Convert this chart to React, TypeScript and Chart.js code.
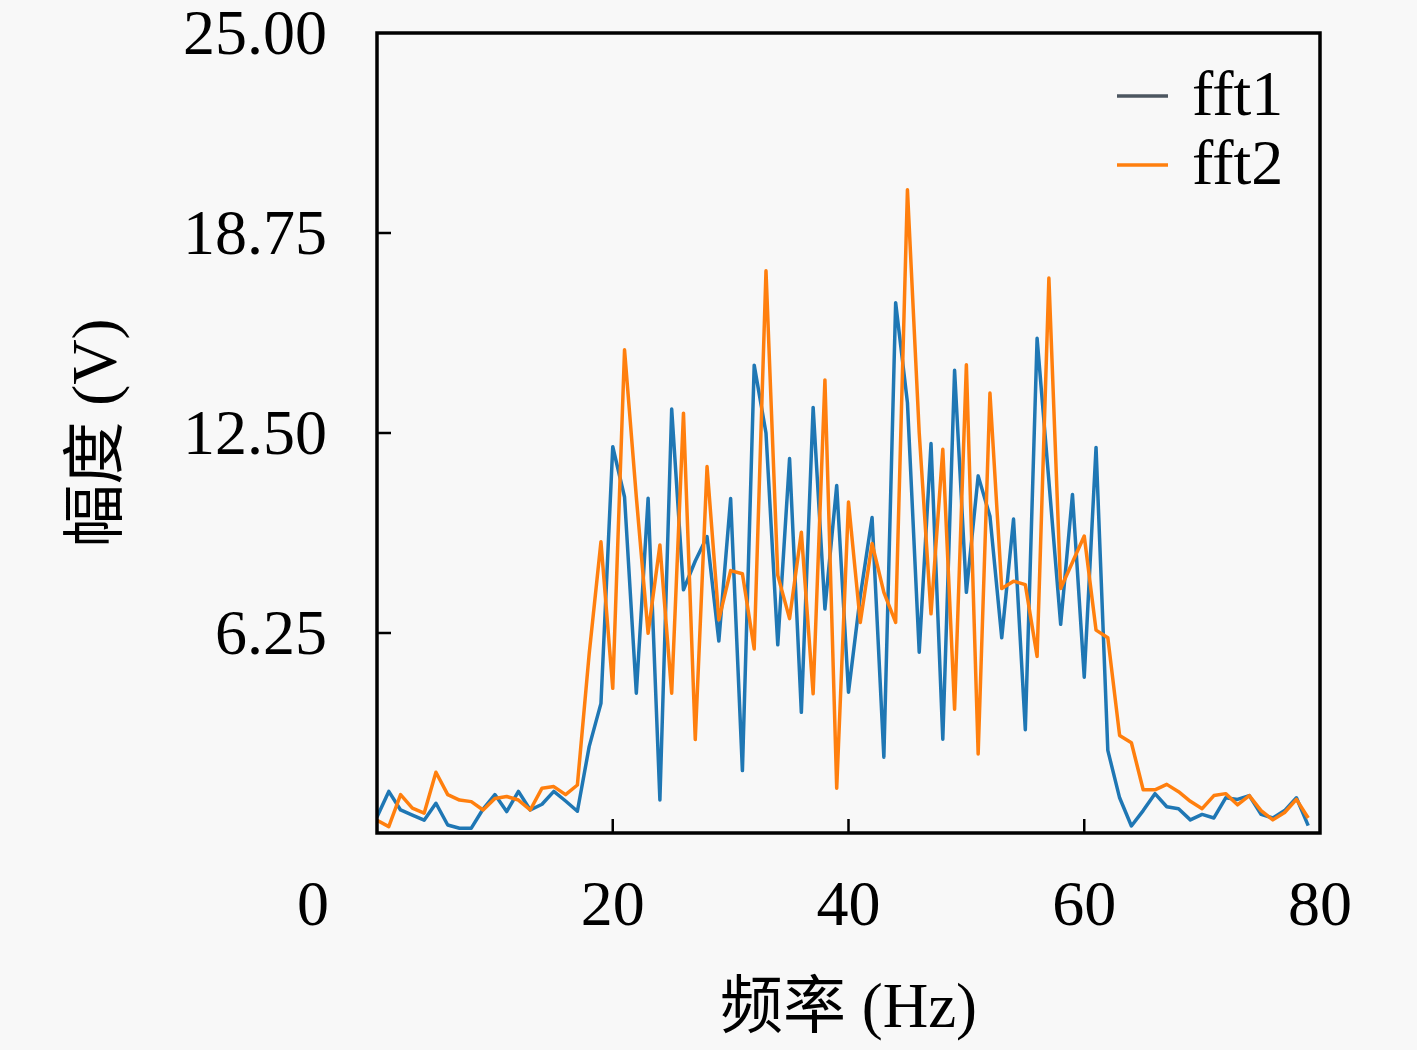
import React, { useEffect, useRef } from 'react';
import { Chart, registerables } from 'chart.js';

Chart.register(...registerables);

const freqs = [
  0, 1, 2, 3, 4, 5, 6, 7, 8, 9, 10, 11, 12, 13, 14, 15, 16, 17, 18, 19,
  20, 21, 22, 23, 24, 25, 26, 27, 28, 29, 30, 31, 32, 33, 34, 35, 36, 37, 38, 39,
  40, 41, 42, 43, 44, 45, 46, 47, 48, 49, 50, 51, 52, 53, 54, 55, 56, 57, 58, 59,
  60, 61, 62, 63, 64, 65, 66, 67, 68, 69, 70, 71, 72, 73, 74, 75, 76, 77, 78, 79,
];

const fft1 = [
  0.5, 1.3, 0.72, 0.56, 0.4, 0.93, 0.25, 0.15, 0.15, 0.75,
  1.2, 0.67, 1.3, 0.72, 0.9, 1.3, 1.0, 0.68, 2.7, 4.05,
  12.07, 10.5, 4.37, 10.46, 1.03, 13.25, 7.6, 8.5, 9.26, 6.0,
  10.45, 1.95, 14.62, 12.5, 5.88, 11.7, 3.77, 13.3, 7.0, 10.86,
  4.4, 7.4, 9.86, 2.37, 16.57, 13.45, 5.65, 12.17, 2.93, 14.46,
  7.52, 11.16, 9.9, 6.1, 9.81, 3.23, 15.46, 11.0, 6.52, 10.58,
  4.87, 12.05, 2.58, 1.1, 0.22, 0.7, 1.23, 0.82, 0.76, 0.41,
  0.58, 0.47, 1.1, 1.05, 1.17, 0.58, 0.47, 0.7, 1.1, 0.23,
];

const fft2 = [
  0.4, 0.2, 1.2, 0.78, 0.62, 1.9, 1.2, 1.03, 0.98, 0.72,
  1.08, 1.14, 1.03, 0.72, 1.4, 1.45, 1.2, 1.5, 5.6, 9.1,
  4.52, 15.1, 10.5, 6.24, 9.0, 4.37, 13.12, 2.92, 11.45, 6.66,
  8.2, 8.1, 5.75, 17.57, 8.05, 6.7, 9.4, 4.35, 14.16, 1.4,
  10.34, 6.58, 9.05, 7.52, 6.58, 20.1, 12.5, 6.85, 11.99, 3.87,
  14.63, 2.47, 13.75, 7.64, 7.87, 7.76, 5.52, 17.34, 7.64, 8.46,
  9.28, 6.34, 6.1, 3.05, 2.82, 1.35, 1.35, 1.52, 1.29, 0.99,
  0.76, 1.17, 1.23, 0.88, 1.17, 0.7, 0.41, 0.64, 1.05, 0.47,
];

const seriesNames = ['fft1', 'fft2'];
const lineColors = ['#1f77b4', '#ff7f0e'];
const legendColors = ['#4c5660', '#ff7f0e'];

const yTicks = [6.25, 12.5, 18.75, 25];
const xTicks = [20, 40, 60, 80];
const xTitle = '频率 (Hz)';
const yTitle = '幅度 (V)';

const SERIF = '"Liberation Serif", "DejaVu Serif", serif';
const TITLE_FONT = '"Liberation Serif", "Noto Sans CJK SC", serif';
const BG = '#f8f8f8';

const framePlugin = {
  id: 'frameAndTicks',
  afterDatasetsDraw(chart: any) {
    const { ctx, chartArea, scales } = chart;
    const { left, right, top, bottom } = chartArea;
    ctx.save();
    ctx.strokeStyle = '#000';
    ctx.lineWidth = 2.5;
    ctx.lineCap = 'butt';
    // inward ticks
    const tl = 14;
    for (const v of yTicks) {
      if (v >= scales.y.max) continue;
      const p = scales.y.getPixelForValue(v);
      ctx.beginPath();
      ctx.moveTo(left, p);
      ctx.lineTo(left + tl, p);
      ctx.stroke();
    }
    for (const v of xTicks) {
      if (v >= scales.x.max) continue;
      const p = scales.x.getPixelForValue(v);
      ctx.beginPath();
      ctx.moveTo(p, bottom);
      ctx.lineTo(p, bottom - tl);
      ctx.stroke();
    }
    // frame
    ctx.lineWidth = 3.5;
    ctx.strokeRect(left, top, right - left, bottom - top);

    // legend
    ctx.font = `64px ${SERIF}`;
    ctx.textBaseline = 'middle';
    ctx.textAlign = 'left';
    chart.data.datasets.forEach((ds: any, i: number) => {
      const y = top + 63 + i * 69;
      ctx.strokeStyle = legendColors[i];
      ctx.lineWidth = 3.5;
      ctx.beginPath();
      ctx.moveTo(right - 203, y);
      ctx.lineTo(right - 152, y);
      ctx.stroke();
      ctx.fillStyle = '#000';
      ctx.fillText(ds.label, right - 128, y + 2);
    });

    // the "0" x label
    ctx.textAlign = 'center';
    ctx.fillText('0', scales.x.getPixelForValue(0) - 64, scales.x.top + 43 + 32);
    ctx.restore();
  },
};

export default function App() {
  const ref = useRef<HTMLCanvasElement | null>(null);

  useEffect(() => {
    if (!ref.current) return;
    const chart = new Chart(ref.current, {
      type: 'line',
      data: {
        labels: freqs,
        datasets: [
          {
            label: seriesNames[0],
            data: freqs.map((f, i) => ({ x: f, y: fft1[i] })),
            borderColor: lineColors[0],
            borderWidth: 3.5,
            pointRadius: 0,
            tension: 0,
            borderJoinStyle: 'round',
            order: 1,
          },
          {
            label: seriesNames[1],
            data: freqs.map((f, i) => ({ x: f, y: fft2[i] })),
            borderColor: lineColors[1],
            borderWidth: 3.5,
            pointRadius: 0,
            tension: 0,
            borderJoinStyle: 'round',
            order: 0,
          },
        ],
      },
      options: {
        responsive: false,
        animation: false,
        layout: { padding: { left: 0, top: 33, right: 97, bottom: 0 } },
        plugins: {
          legend: { display: false },
          tooltip: { enabled: false },
        },
        scales: {
          x: {
            type: 'linear',
            min: 0,
            max: 80,
            afterFit: (s: any) => {
              s.height = 217;
            },
            afterBuildTicks: (s: any) => {
              s.ticks = [0, ...xTicks].map((v) => ({ value: v }));
            },
            ticks: {
              padding: 0,
              color: '#000',
              maxRotation: 0,
              font: { family: SERIF, size: 64, lineHeight: 1 },
              callback: (v: any) => (Number(v) === 0 ? '' : String(v)),
            },
            grid: { display: false, drawTicks: true, tickLength: 43 },
            border: { display: false },
            title: {
              display: true,
              text: xTitle,
              color: '#000',
              font: { family: TITLE_FONT, size: 63, lineHeight: 1.2 },
              padding: { top: 0, bottom: 2 },
            },
          },
          y: {
            type: 'linear',
            min: 0,
            max: 25,
            afterFit: (s: any) => {
              s.width = 377;
            },
            afterBuildTicks: (s: any) => {
              s.ticks = [0, ...yTicks].map((v) => ({ value: v }));
            },
            ticks: {
              padding: 0,
              labelOffset: 4,
              color: '#000',
              font: { family: SERIF, size: 64, lineHeight: 1 },
              callback: (v: any) => (Number(v) === 0 ? '' : Number(v).toFixed(2)),
            },
            grid: { display: false, drawTicks: true, tickLength: 50 },
            border: { display: false },
            title: {
              display: true,
              text: yTitle,
              color: '#000',
              font: { family: TITLE_FONT, size: 63, lineHeight: 1.2 },
              padding: { top: 62, bottom: 0 },
            },
          },
        },
      },
      plugins: [framePlugin],
    });
    return () => chart.destroy();
  }, []);

  return (
    <div
      style={{
        position: 'absolute',
        left: 0,
        top: 0,
        width: 1417,
        height: 1050,
        background: BG,
      }}
    >
      <canvas ref={ref} width={1417} height={1050} style={{ display: 'block' }} />
    </div>
  );
}
